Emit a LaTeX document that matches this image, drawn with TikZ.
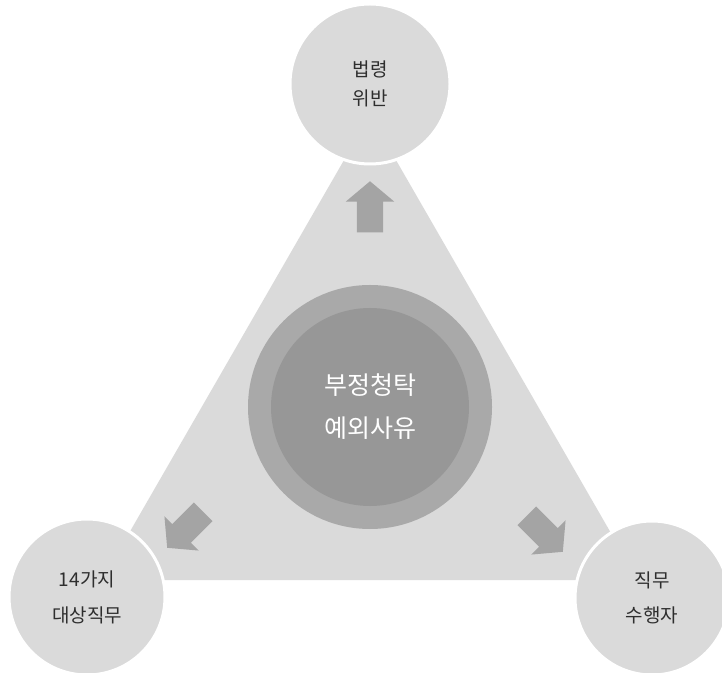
\documentclass[tikz,border=0pt]{standalone}
\usepackage{fontspec}
\setmainfont{Noto Sans CJK KR}
\usetikzlibrary{shapes.arrows}
\definecolor{pale}{HTML}{DADADA}
\definecolor{ring}{HTML}{A9A9A9}
\definecolor{hub}{HTML}{979797}
\definecolor{arrowgray}{HTML}{A4A4A4}
\definecolor{ink}{HTML}{2E2E2E}

\begin{document}
\begin{tikzpicture}[
		x=1pt, y=1pt,
		bubble/.style = {circle, fill=pale, draw=white, line width=3pt,% outer circles
			inner sep=0pt, align=center, text=ink},
		fat/.style = {single arrow, fill=arrowgray, inner xsep=0pt, inner ysep=13pt,
			single arrow head extend=11pt, single arrow tip angle=100,
			minimum height=51pt, anchor=tip},
		]
		\useasboundingbox (0,0) rectangle (722,672);
		% big triangle behind everything
		\fill[pale] (102,92) -- (638,92) -- (370,557) -- cycle;
		% centre
		\node[circle, fill=ring, minimum size=244pt, inner sep=0pt] (ring) at (370,265) {};
		\node[circle, fill=hub, minimum size=198pt, inner sep=0pt, align=center, text=white,
			font=\fontsize{25}{43}\selectfont] (core) at (370,265) {부정청탁\\예외사유};
		% corners
		\node[bubble, minimum size=160pt, font=\fontsize{19}{29}\selectfont] (law) at (370,588) {법령\\위반};
		\node[bubble, minimum size=156pt, font=\fontsize{19}{36}\selectfont] (duty) at (87,75) {14가지\\대상직무};
		\node[bubble, minimum size=154pt, font=\fontsize{19}{35}\selectfont] (agent) at (652,74) {직무\\수행자};
		% arrows
		\node[fat, rotate=90] (toLaw) at (370,491) {};
		\node[fat, rotate=225] (toDuty) at (167,124) {};
		\node[fat, rotate=-45] (toAgent) at (563,120) {};
	\end{tikzpicture}
\end{document}
